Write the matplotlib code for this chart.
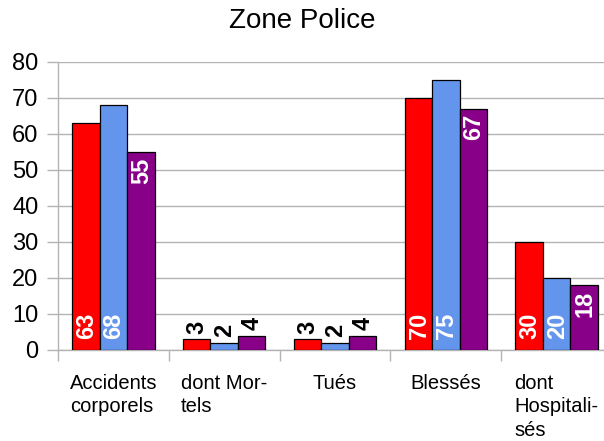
import matplotlib
matplotlib.use("Agg")
import matplotlib.pyplot as plt
import numpy as np

plt.rcParams['font.family'] = ['Liberation Sans', 'DejaVu Sans']

title = "Zone Police"
categories = ["Accidents\ncorporels", "dont Mor-\ntels", "Tués", "Blessés", "dont\nHospitali-\nsés"]
series_a = [63, 3, 3, 70, 30]
series_b = [68, 2, 2, 75, 20]
series_c = [55, 4, 4, 67, 18]
colors = ["#ff0000", "#6495ed", "#880088"]
yticks = [0, 10, 20, 30, 40, 50, 60, 70, 80]

fig = plt.figure(figsize=(6.04, 4.41), dpi=100)
ax = fig.add_axes([58/604, 1-350/441, 554/604, (350-61.7)/441])

grid_c = "#b3b3b3"
x = np.arange(len(categories))
w = 0.248
lab_fs = 17
all_series = [series_a, series_b, series_c]
for j, (vals, c) in enumerate(zip(all_series, colors)):
    xs = x + (j - 1) * w
    ax.bar(xs, vals, width=w, color=c, edgecolor="black", linewidth=0.9, zorder=3)
    for xi, v in zip(xs, vals):
        if v < 10:
            ax.annotate(str(v), xy=(xi, v), xytext=(0.5, 4), textcoords="offset points",
                        rotation=90, ha="center", va="bottom", fontsize=lab_fs,
                        fontweight="bold", color="black", zorder=4)
        elif j < 2:
            ax.annotate(str(v), xy=(xi, 0), xytext=(0.5, 8), textcoords="offset points",
                        rotation=90, ha="center", va="bottom", fontsize=lab_fs,
                        fontweight="bold", color="white", zorder=4)
        else:
            ax.annotate(str(v), xy=(xi, v), xytext=(0.5, -4), textcoords="offset points",
                        rotation=90, ha="center", va="top", fontsize=lab_fs,
                        fontweight="bold", color="white", zorder=4)

ax.set_xlim(-0.5, len(categories) - 0.5)
ax.set_ylim(0, 80)
ax.set_yticks(yticks)
ax.set_yticklabels([str(t) for t in yticks], fontsize=17)
ax.yaxis.grid(True, color=grid_c, linewidth=1, zorder=0)
ax.tick_params(axis="y", length=8, color=grid_c, width=1, pad=6)

ax.set_xticks(x)
ax.set_xticklabels(categories, fontsize=14.5, multialignment="left", linespacing=1.3)
ax.tick_params(axis="x", which="major", length=0, pad=17)
ax.set_xticks(np.arange(-0.5, len(categories), 1.0), minor=True)
ax.tick_params(axis="x", which="minor", length=8, color=grid_c, width=1)

for s in ["top", "right"]:
    ax.spines[s].set_visible(False)
for s in ["left", "bottom"]:
    ax.spines[s].set_color(grid_c)
    ax.spines[s].set_linewidth(1)
ax.set_axisbelow(True)

fig.text(0.5, 1 - 21/441, title, ha="center", va="center", fontsize=20)

fig.savefig("out.png", dpi=100)
